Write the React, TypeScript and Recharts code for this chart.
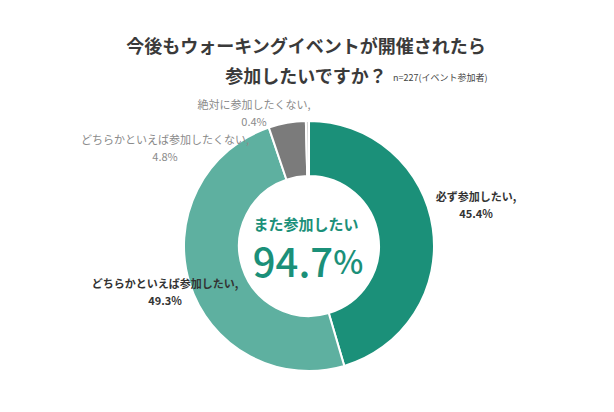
import React from 'react';
import { PieChart, Pie, Cell } from 'recharts';

const categories = ['必ず参加したい', 'どちらかといえば参加したい', 'どちらかといえば参加したくない', '絶対に参加したくない'];
const values = [45.4, 49.3, 4.8, 0.4];
const colors = ['#1b9079', '#5eb0a0', '#7b7b7b', '#d6d6d6'];

const data = categories.map((name, i) => ({ name, value: values[i] }));

// label spots, page coords
const labelSpots = [
  { x: 476, y: 196, bold: true },
  { x: 165, y: 283, bold: true },
  { x: 165, y: 139, bold: false },
  { x: 254, y: 104, bold: false },
];

const FONT = '"Noto Sans CJK JP", "Noto Sans", sans-serif';

function renderLabel(props: any) {
  const i = props.index;
  const s = labelSpots[i];
  const fill = s.bold ? '#333333' : '#8a8a8a';
  const weight = s.bold ? 700 : 400;
  return (
    <g key={`lbl-${i}`}>
      <text x={s.x} y={s.y} textAnchor="middle" dominantBaseline="central" fontSize={11} fontWeight={weight} fill={fill} fontFamily={FONT}>
        {categories[i]},
      </text>
      <text x={s.x} y={s.y + 17} textAnchor="middle" dominantBaseline="central" fontSize={11} fontWeight={weight} fill={fill} fontFamily={FONT}>
        {values[i]}%
      </text>
    </g>
  );
}

export default function App() {
  return (
    <div style={{ position: 'absolute', left: 0, top: 0, width: 614, height: 412, background: '#fff' }}>
      <PieChart width={614} height={412} margin={{ top: 0, right: 0, bottom: 0, left: 0 }}>
        <text x={306} y={45} textAnchor="middle" dominantBaseline="central" fontSize={18} fontWeight={700} fill="#3a3a3a" fontFamily={FONT}>
          今後もウォーキングイベントが開催されたら
        </text>
        <text x={306} y={75} textAnchor="middle" dominantBaseline="central" fontSize={18} fontWeight={700} fill="#3a3a3a" fontFamily={FONT}>
          参加したいですか？
        </text>
        <text x={393} y={77} textAnchor="start" dominantBaseline="central" fontSize={9} fill="#444" fontFamily={FONT}>
          n=227(イベント参加者)
        </text>
        <Pie
          data={data}
          dataKey="value"
          nameKey="name"
          cx={309}
          cy={246}
          innerRadius={70}
          outerRadius={125}
          startAngle={90}
          endAngle={-270}
          stroke="#ffffff"
          strokeWidth={2}
          label={renderLabel}
          labelLine={false}
          isAnimationActive={false}
        >
          {data.map((d, i) => (
            <Cell key={d.name} fill={colors[i]} />
          ))}
        </Pie>
        <line x1={253} y1={148} x2={290} y2={150} stroke="#9a9a9a" strokeWidth={1} />
        <text x={306} y={223} textAnchor="middle" dominantBaseline="central" fontSize={15} fontWeight={700} fill="#1b9079" fontFamily={FONT}>
          また参加したい
        </text>
        <text x={308} y={260} textAnchor="middle" dominantBaseline="central" fontSize={40} fontWeight={500} fill="#1b9079" fontFamily={FONT}>
          94.7<tspan fontSize={32}>%</tspan>
        </text>
      </PieChart>
    </div>
  );
}
